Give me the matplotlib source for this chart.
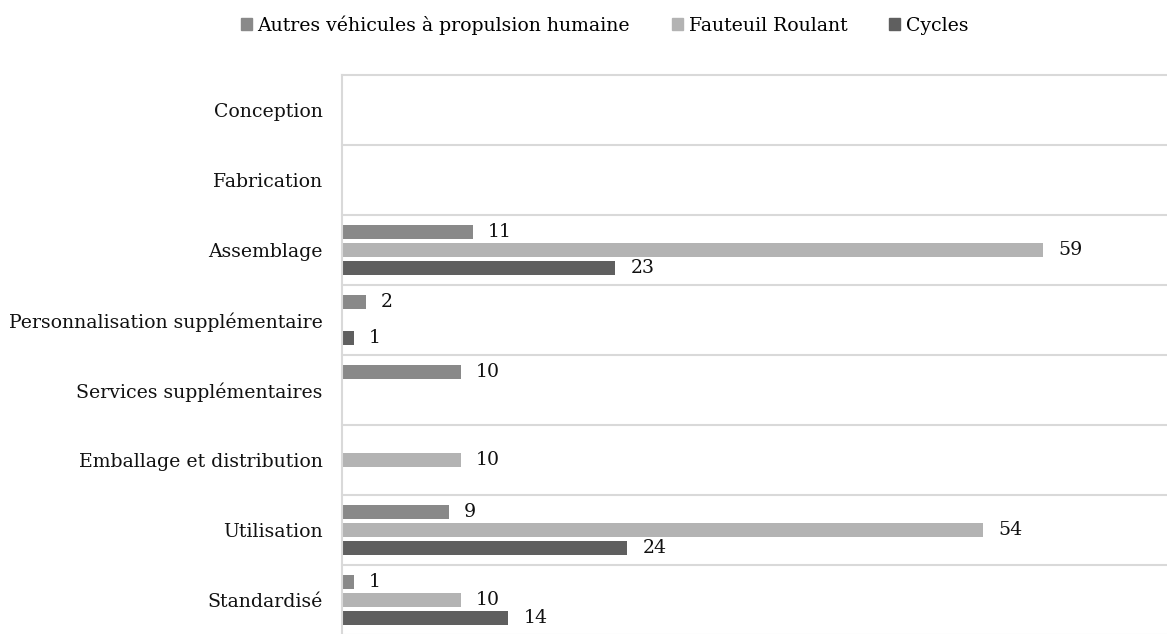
import matplotlib.pyplot as plt
import numpy as np
from matplotlib.patches import Patch

plt.rcParams['font.family'] = ['DejaVu Serif']

CATEGORIES = ["Conception", "Fabrication", "Assemblage",
              "Personnalisation supplémentaire", "Services supplémentaires",
              "Emballage et distribution", "Utilisation", "Standardisé"]
SERIES = ["Autres véhicules à propulsion humaine", "Fauteuil Roulant", "Cycles"]
# None means no bar for that category
AUTRES = [None, None, 11, 2, 10, None, 9, 1]
FAUTEUIL = [None, None, 59, None, None, 10, 54, 10]
CYCLES = [None, None, 23, 1, None, None, 24, 14]
COLORS = ["#898989", "#b3b3b3", "#5f5f5f"]

BAR_HEIGHT = 0.19
OFFSETS = [-0.257, 0.0, 0.257]
FONT_SIZE = 13.6

fig = plt.figure(figsize=(11.67, 6.34), dpi=100)
ax = fig.add_axes([342 / 1167, -1 / 634, 825 / 1167, 560 / 634])

positions = np.arange(len(CATEGORIES))
for values, offset, color in zip([AUTRES, FAUTEUIL, CYCLES], OFFSETS, COLORS):
    for pos, val in zip(positions, values):
        if val is None:
            continue
        ax.barh(pos + offset, val, height=BAR_HEIGHT, color=color)
        ax.annotate(str(val), (val, pos + offset), xytext=(11, 0),
                    textcoords="offset points", va="center", ha="left",
                    fontsize=FONT_SIZE, color="#111111")

ax.set_xlim(0, 69.45)
ax.set_ylim(len(CATEGORIES) - 0.5, -0.5)
ax.set_yticks(positions)
ax.set_yticklabels(CATEGORIES, fontsize=FONT_SIZE, color="#111111")
ax.tick_params(axis="y", length=0, pad=14)
ax.set_xticks([])

# separators between categories, drawn as lines so the edge ones aren't clipped
for edge in np.arange(-0.5, len(CATEGORIES), 1.0):
    ax.axhline(edge, color="#d9d9d9", linewidth=1.5, zorder=0, clip_on=False)

for side in ["top", "right", "bottom"]:
    ax.spines[side].set_visible(False)
ax.spines["left"].set_color("#d9d9d9")
ax.spines["left"].set_linewidth(1.5)

handles = [Patch(color=c, label=s) for c, s in zip(COLORS, SERIES)]
fig.legend(handles=handles, loc="center", bbox_to_anchor=(0.518, 0.96),
           ncol=3, frameon=False, fontsize=FONT_SIZE, handlelength=0.6,
           handleheight=0.6, handletextpad=0.3, columnspacing=2.2)

fig.savefig("out.png", dpi=100)
